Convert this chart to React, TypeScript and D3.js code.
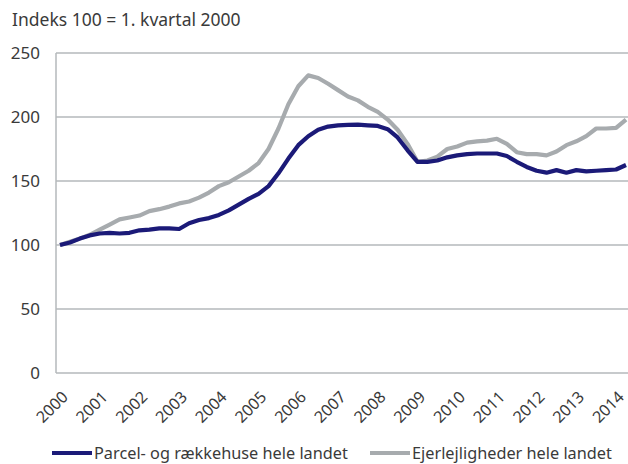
import * as d3 from "d3";

const years = ["2000", "2001", "2002", "2003", "2004", "2005", "2006", "2007", "2008", "2009", "2010", "2011", "2012", "2013", "2014"];

// kvartalsindeks, 1. kvt 2000 = 100
const parcel = [
  100, 102, 105, 107.5, 109, 109.5, 109, 109.5, 111.5, 112, 113, 113, 112.5, 117, 119.5, 121,
  123.5, 127, 131.5, 136, 140, 146, 156, 167.5, 178, 185, 190, 192.5, 193.5, 193.8, 194, 193.5,
  193, 190.5, 184, 174, 165, 165, 166, 168.5, 170, 171, 171.5, 171.5, 171.5, 169.5, 165, 161,
  158, 156.5, 158.5, 156.5, 158.5, 157.5, 158, 158.5, 159, 162.5,
];
const ejer = [
  100, 102.5, 105, 108, 112, 116, 120, 121.5, 123, 126.5, 128, 130, 132.5, 134, 137, 141,
  146, 149, 153.5, 158, 164, 175, 191, 210, 224, 232.5, 230.5, 226, 221, 216, 213, 208,
  204, 198, 190, 179, 165, 166, 169, 175, 177, 180, 181, 181.5, 183, 179, 172.5, 171,
  171, 170, 173, 178, 181, 185, 191, 191, 191.5, 198,
];
const yTicks = [0, 50, 100, 150, 200, 250];
const seriesNames = ["Parcel- og rækkehuse hele landet", "Ejerlejligheder hele landet"];

const W = 628;
const H = 464;
const FONT = "'Noto Sans', sans-serif";
const TXT = "#3a3a3a";
const GRID = "#b5b9bb";
const BLUE = "#1b1a78";
const GRAY = "#a7abae";

export default function App() {
  const x = d3.scaleLinear().domain([0, parcel.length - 1]).range([60, 626]);
  const y = d3.scaleLinear().domain([0, 250]).range([373, 53]);
  const line = d3
    .line<number>()
    .x((_, i) => x(i))
    .y((d) => y(d))
    .curve(d3.curveLinear);

  return (
    <svg width={W} height={H} style={{ position: "absolute", left: 0, top: 0 }} fontFamily={FONT}>
      <text x={12} y={26} fontSize={17.5} fill={TXT}>
        Indeks 100 = 1. kvartal 2000
      </text>
      {yTicks.map((t) => (
        <g key={t}>
          <line x1={56} x2={W} y1={y(t)} y2={y(t)} stroke={GRID} strokeWidth={1.5} />
          <text x={40} y={y(t)} dy="0.35em" textAnchor="end" fontSize={17} fill={TXT}>
            {t}
          </text>
        </g>
      ))}
      <line x1={56} x2={56} y1={y(250)} y2={y(0)} stroke={GRID} strokeWidth={1.5} />
      {years.map((yr, k) => (
        <text
          key={yr}
          transform={`translate(${x(k * 4) + 5},${394}) rotate(-45)`}
          textAnchor="end"
          dy="0.35em"
          fontSize={16}
          fill={TXT}
        >
          {yr}
        </text>
      ))}
      <path d={line(ejer) ?? ""} fill="none" stroke={GRAY} strokeWidth={4.2} strokeLinejoin="round" />
      <path d={line(parcel) ?? ""} fill="none" stroke={BLUE} strokeWidth={4.2} strokeLinejoin="round" />
      <g fontSize={16.3} fill={TXT}>
        <line x1={52} x2={92} y1={453} y2={453} stroke={BLUE} strokeWidth={4} />
        <text x={94} y={453} dy="0.35em">
          {seriesNames[0]}
        </text>
        <line x1={370} x2={410} y1={453} y2={453} stroke={GRAY} strokeWidth={4} />
        <text x={412} y={453} dy="0.35em">
          {seriesNames[1]}
        </text>
      </g>
    </svg>
  );
}
